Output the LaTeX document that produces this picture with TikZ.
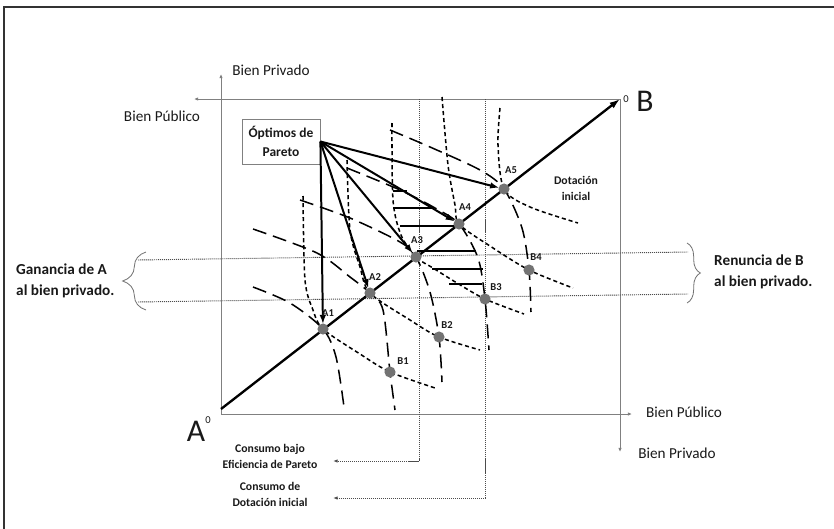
\documentclass[tikz,border=0pt]{standalone}
\usepackage{fontspec}
\setmainfont{Carlito}
\usetikzlibrary{arrows.meta,decorations.pathreplacing}

\begin{document}
\begin{tikzpicture}[x=0.03cm,y=-0.03cm,
  frame/.style={draw=black!80,line width=1.3pt},
  axis/.style={draw=black!50,line width=0.7pt,-{Latex[length=3.5pt,width=3pt]}},
  guide/.style={draw=black!70,line width=0.8pt,dash pattern=on 0.9pt off 0.8pt},
  diag/.style={draw=black,line width=2pt,-{Latex[length=9pt,width=6pt]}},
  fan/.style={draw=black,line width=1.7pt,-{Latex[length=8pt,width=5.5pt]},shorten >=4pt},
  sdash/.style={draw=black,line width=1.3pt,dash pattern=on 3.5pt off 2.5pt},
  ldash/.style={draw=black,line width=1.3pt,dash pattern=on 12pt off 6pt},
  hatch/.style={draw=black,line width=2pt},
  brc/.style={draw=black!55,line width=0.7pt,decorate},
  dot/.style={circle,fill=black!55,inner sep=0pt,minimum size=9.5pt},
  ptlbl/.style={font=\fontsize{9}{9}\selectfont\bfseries,inner sep=0pt},
  axlbl/.style={font=\fontsize{13}{15}\selectfont,inner sep=0pt},
  sidelbl/.style={font=\fontsize{13}{18.5}\selectfont\bfseries,align=left,inner sep=0pt},
  notelbl/.style={font=\fontsize{10}{13.7}\selectfont\bfseries,align=center,inner sep=0pt},
  every node/.style={text=black!90}
]
\useasboundingbox (0,0) rectangle (834,529);
\draw[frame] (4,529) -- (4,7) -- (834,7);

\coordinate (O) at (221,414);
\coordinate (A0) at (221,409);
\coordinate (B0) at (620,99);
\coordinate (A1) at (323,329);
\coordinate (A2) at (370,293);
\coordinate (A3) at (416,257);
\coordinate (A4) at (459,224);
\coordinate (A5) at (504,189);
\coordinate (B1) at (390,372);
\coordinate (B2) at (439,337);
\coordinate (B3) at (485,299);
\coordinate (B4) at (529,270);

\draw[axis] (O) -- (632,414);
\draw[axis] (O) -- (221,74);
\draw[axis] (B0) -- (194,99);
\draw[axis] (B0) -- (620,452);

\draw[guide] (138,260) -- (688,252);
\draw[guide] (138,302) -- (688,294);
\draw[guide,-{Latex[length=4pt,width=3pt]}] (419,99) |- (333,461);
\draw[guide,-{Latex[length=4pt,width=3pt]}] (485,99) |- (333,498);

\draw[brc,decoration={brace,amplitude=0.7cm}] (146,310) -- (146,252);
\draw[brc,decoration={brace,amplitude=0.4cm}] (687,243) -- (687,303);

\foreach \y/\xa/\xb in {191/393/407,208/393/432,226/400/457,251/417/476,269/432/483,284/449/482}
  \draw[hatch] (\xa,\y) -- (\xb,\y);

\draw[sdash] plot[smooth] coordinates {(303,196) (305,280) (313,310) (A1) (360,354) (B1) (435,388)};
\draw[sdash] plot[smooth] coordinates {(347,160) (350,230) (360,267) (A2) (410,320) (B2) (480,350)};
\draw[sdash] plot[smooth] coordinates {(392,123) (393,200) (401,235) (A3) (433,268) (457,283) (B3) (524,314)};
\draw[sdash] plot[smooth] coordinates {(442,97) (448,165) (455,205) (A4) (490,246) (B4) (573,288)};
\draw[sdash] plot[smooth] coordinates {(500,108) (498,145) (A5) (530,207) (578,223)};

\draw[ldash] plot[smooth] coordinates {(253,287) (290,303) (A1) (336,357) (344,407)};
\draw[ldash] plot[smooth] coordinates {(253,229) (317,253) (350,277) (A2) (383,310) (B1) (395,410)};
\draw[ldash] plot[smooth] coordinates {(300,200) (350,218) (400,242) (A3) (430,292) (B2) (442,382)};
\draw[ldash] plot[smooth] coordinates {(347,168) (400,190) (435,208) (A4) (478,258) (B3) (489,350)};
\draw[ldash] plot[smooth] coordinates {(390,130) (430,147) (480,170) (A5) (522,228) (B4) (531,312)};

\node[draw=black!50,line width=0.7pt,minimum width=2.34cm,minimum height=1.35cm,align=center,
  font=\fontsize{11.5}{16}\selectfont\bfseries,inner sep=0pt] (opt) at (281,141.5) {Óptimos de\\Pareto};

\draw[diag] (A0) -- (B0);
\foreach \i in {1,...,5}
  \draw[fan] (opt.east) -- (A\i);

\foreach \p in {A1,A2,A3,A4,A5,B1,B2,B3,B4}
  \node[dot] (d\p) at (\p) {};

\node[ptlbl] (lA1) at (328,313) {A1};
\node[ptlbl] (lA2) at (375,277) {A2};
\node[ptlbl] (lA3) at (417,240) {A3};
\node[ptlbl] (lA4) at (465,207) {A4};
\node[ptlbl] (lA5) at (511,170) {A5};
\node[ptlbl] (lB1) at (403,361) {B1};
\node[ptlbl] (lB2) at (447,325) {B2};
\node[ptlbl] (lB3) at (496,287) {B3};
\node[ptlbl] (lB4) at (536,257) {B4};

\node[axlbl] (privA) at (271,70) {Bien Privado};
\node[axlbl] (pubB) at (162,116) {Bien Público};
\node[axlbl] (pubA) at (684,412) {Bien Público};
\node[axlbl] (privB) at (677,453) {Bien Privado};

\node[inner sep=0pt,font=\fontsize{27}{27}\selectfont] (bigA) at (196,431) {A};
\node[inner sep=0pt,font=\fontsize{9}{9}\selectfont] (zeroA) at (208,420) {0};
\node[inner sep=0pt,font=\fontsize{27}{27}\selectfont] (bigB) at (645,101) {B};
\node[inner sep=0pt,font=\fontsize{9}{9}\selectfont] (zeroB) at (626,99) {0};

\node[sidelbl,anchor=west] (ganA) at (16,281) {Ganancia de A\\al bien privado.};
\node[sidelbl,anchor=west] (renB) at (714,272) {Renuncia de B\\al bien privado.};

\node[notelbl] (dot0) at (576,188) {Dotación\\inicial};
\node[notelbl] (cpar) at (270,456) {Consumo bajo\\Eficiencia de Pareto};
\node[notelbl] (cdot) at (270,494) {Consumo de\\Dotación inicial};
\end{tikzpicture}
\end{document}
